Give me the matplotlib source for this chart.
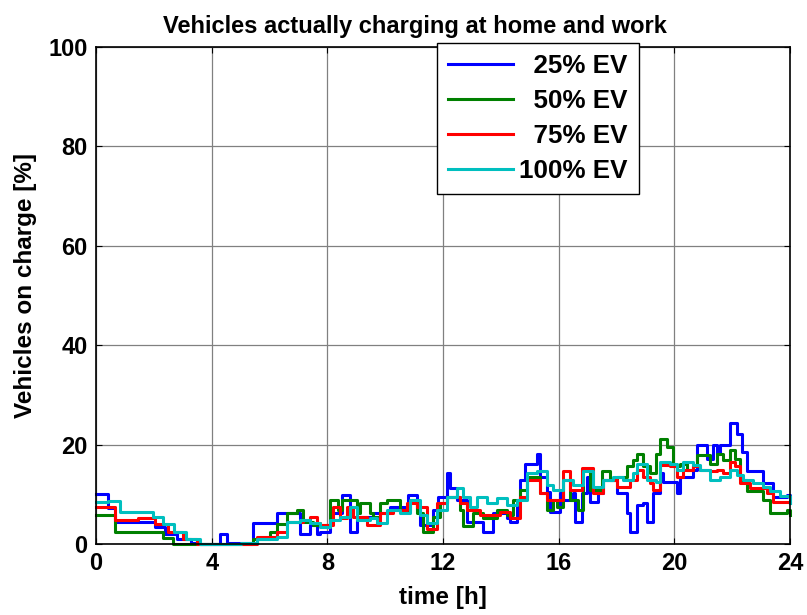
import matplotlib
matplotlib.use("Agg")
import matplotlib.pyplot as plt

plt.rcParams['font.family'] = ['Liberation Sans', 'DejaVu Sans']
plt.rcParams['font.weight'] = 'bold'

# breakpoints (hour, % vehicles on charge)
t25 = [0, 0.43, 0.66, 2.04, 2.4, 2.8, 3.3, 3.6, 4.29, 4.52, 5.44, 6.25, 7.05, 7.4, 7.63, 7.75,
       8.09, 8.5, 8.78, 9.01, 9.59, 10.17, 10.8, 11.09, 11.2, 11.66, 11.84, 12.13, 12.24, 12.47,
       12.82, 13.39, 13.74, 14.2, 14.32, 14.55, 14.66, 14.84, 15.24, 15.35, 15.58, 15.7,
       16.04, 16.16, 16.51, 16.56, 16.79, 16.97, 17.08, 17.37, 17.54, 18.0, 18.35, 18.47, 18.69,
       18.92, 19.04, 19.27, 19.5, 19.61, 20.08, 20.19, 20.65, 20.77, 21.12, 21.35, 21.46, 21.58,
       21.92, 22.15, 22.33, 22.5, 23.07, 23.42, 23.88, 24.0]
v25 = [10.0, 7.3, 4.5, 3.5, 2.0, 1.0, 0.3, 0.0, 2.1, 0.3, 4.2, 6.3, 2.1, 3.8, 2.1, 2.5,
       6.2, 9.9, 2.5, 5.5, 6.2, 7.5, 9.9, 6.8, 3.8, 6.8, 9.5, 14.2, 11.2, 8.85,
       4.5, 2.5, 6.2, 5.2, 4.5, 8.85, 12.9, 16.2, 18.2, 13.5, 10.4, 6.5,
       10.2, 8.85, 10.2, 4.5, 10.2, 13.5, 8.5, 10.2, 12.9, 10.2, 6.2, 2.5, 7.8,
       8.2, 4.5, 10.2, 14.2, 12.5, 10.2, 13.5, 14.9, 20.0, 17.2, 19.9, 18.2, 19.9,
       24.3, 22.2, 18.6, 14.6, 12.2, 9.5, 9.9, 8.5]

t50 = [0, 0.66, 2.33, 2.67, 5.44, 6.0, 6.25, 6.59, 6.94, 7.17, 7.5, 7.75, 8.09, 8.38, 8.5,
       9.01, 9.13, 9.47, 9.59, 9.82, 10.05, 10.51, 10.86, 11.09, 11.32, 11.66, 11.9, 12.13,
       12.59, 12.7, 13.05, 13.39, 13.86, 14.2, 14.43, 14.66, 14.89, 15.35, 15.58, 15.81,
       15.93, 16.16, 16.39, 16.68, 16.85, 17.08, 17.49, 17.77, 18.0, 18.35, 18.58, 18.69,
       18.92, 19.15, 19.38, 19.5, 19.73, 19.96, 20.19, 20.42, 20.65, 20.77, 21.23, 21.46,
       21.69, 21.92, 22.09, 22.27, 22.5, 23.07, 23.3, 23.88, 24.0]
v50 = [5.8, 2.5, 1.2, 0.0, 1.0, 2.5, 4.0, 6.2, 6.8, 4.5, 3.8, 3.9, 8.85, 6.8, 8.85,
       6.2, 8.2, 6.2, 5.5, 8.2, 8.85, 6.8, 8.85, 6.2, 2.5, 5.5, 8.2, 9.5,
       6.8, 3.6, 6.2, 5.2, 6.8, 5.8, 8.85, 10.9, 13.5, 10.2, 6.8, 8.85,
       7.5, 12.9, 8.85, 6.8, 14.9, 10.9, 14.6, 12.9, 13.5, 15.6, 16.9, 18.2,
       15.6, 14.2, 18.2, 21.2, 19.6, 15.6, 16.2, 14.9, 15.9, 17.9, 16.2, 18.2,
       16.9, 18.9, 17.2, 12.9, 10.6, 8.85, 6.2, 6.8, 5.8]

t75 = [0, 0.66, 1.46, 2.04, 2.5, 3.0, 3.48, 5.55, 6.25, 6.59, 7.17, 7.4, 7.63, 7.75, 8.21,
       8.44, 8.67, 8.9, 9.36, 9.82, 10.28, 10.74, 11.09, 11.43, 11.78, 12.13, 12.59, 12.82,
       13.28, 13.97, 14.32, 14.66, 14.89, 15.35, 15.58, 15.7, 16.16, 16.39, 16.79, 17.2,
       17.54, 18.0, 18.47, 18.69, 18.92, 19.15, 19.27, 19.5, 19.85, 20.08, 20.31, 20.65,
       20.88, 21.23, 21.46, 21.69, 21.92, 22.09, 22.27, 22.61, 23.19, 23.42, 24.0]
v75 = [7.4, 4.8, 5.2, 4.0, 2.5, 1.0, 0.0, 1.5, 2.5, 4.5, 4.8, 5.5, 4.2, 3.8, 7.5,
       5.2, 7.5, 5.5, 3.8, 6.2, 6.8, 8.2, 7.5, 3.0, 8.2, 9.5, 8.2, 6.8,
       5.8, 6.5, 5.2, 9.5, 12.9, 10.2, 8.85, 8.85, 14.6, 10.9, 15.2, 10.2,
       12.9, 11.5, 12.9, 14.9, 13.5, 12.2, 10.9, 15.9, 15.6, 13.5, 14.9, 15.6,
       14.9, 14.6, 14.9, 14.2, 16.6, 15.6, 12.2, 11.2, 10.2, 8.5, 8.2]

t100 = [0, 0.43, 0.83, 1.98, 2.3, 2.7, 3.1, 3.6, 5.0, 5.55, 6.25, 6.59, 7.05, 7.4, 7.75,
        8.09, 8.44, 8.78, 9.01, 9.47, 9.7, 10.05, 10.51, 10.86, 11.2, 11.43, 11.78, 12.13,
        12.47, 12.7, 12.93, 13.16, 13.51, 13.86, 14.2, 14.55, 14.89, 15.24, 15.58, 15.81,
        16.16, 16.51, 16.85, 17.2, 17.54, 17.89, 18.23, 18.58, 18.69, 19.04, 19.38, 19.5,
        19.85, 20.08, 20.31, 20.65, 20.88, 21.23, 21.58, 21.92, 22.15, 22.38, 22.73, 23.07,
        23.3, 23.65, 24.0]
v100 = [8.5, 8.7, 6.5, 5.5, 4.0, 2.5, 1.0, 0.0, 0.3, 1.0, 1.5, 4.5, 4.8, 4.2, 3.5,
        4.8, 5.5, 7.5, 4.8, 5.2, 4.2, 6.8, 6.2, 8.85, 5.8, 4.2, 6.8, 9.5,
        11.2, 9.5, 7.5, 9.5, 8.2, 9.2, 7.8, 8.85, 14.2, 14.6, 11.9, 10.9,
        12.9, 11.9, 14.6, 11.5, 12.9, 13.5, 12.9, 14.2, 16.2, 12.9, 12.5, 16.6,
        16.2, 14.9, 16.6, 15.9, 14.9, 12.9, 13.5, 14.9, 13.9, 12.9, 12.2, 11.5,
        10.6, 9.6, 8.2]

labels = ['  25% EV', '  50% EV', '  75% EV', '100% EV']
colors = ['#0000ff', '#008000', '#ff0000', '#00bfbf']

fig = plt.figure(figsize=(8.07, 6.15), dpi=100)
ax = fig.add_axes([0.119, 0.1154, 0.860, 0.8082])

for t, v, c, lab in zip([t25, t50, t75, t100], [v25, v50, v75, v100], colors, labels):
    ax.plot(t, v, drawstyle='steps-post', color=c, lw=2.2, label=lab, clip_on=False)

ax.set_xlim(0, 24)
ax.set_ylim(0, 100)
ax.set_xticks(range(0, 25, 4))
ax.set_yticks(range(0, 101, 20))
ax.grid(True, color='#808080', lw=0.9, ls='-')
ax.tick_params(direction='in', length=4, top=True, right=True, labelsize=17, pad=6)
for s in ax.spines.values():
    s.set_linewidth(1.2)

ax.set_title('Vehicles actually charging at home and work', fontsize=17, fontweight='bold',
             pad=10, x=0.46)
ax.set_xlabel('time [h]', fontsize=17.5, fontweight='bold', labelpad=8)
ax.set_ylabel('Vehicles on charge [%]', fontsize=17.5, fontweight='bold', labelpad=8)
ax.yaxis.label.set_y(0.521)

leg = ax.legend(loc='upper left', bbox_to_anchor=(0.491, 1.008), fontsize=18.7, fancybox=False,
                framealpha=1, edgecolor='black', handlelength=2.5, handletextpad=0.25,
                labelspacing=0.42, borderpad=0.42, borderaxespad=0)
leg.get_frame().set_linewidth(1.0)

fig.savefig('out.png', dpi=100)
